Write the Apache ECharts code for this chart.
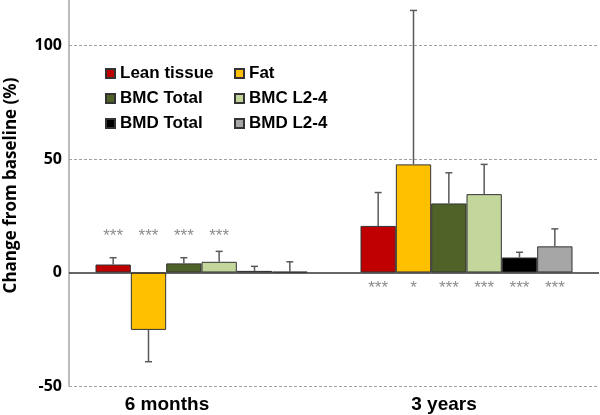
<!DOCTYPE html>
<html>
<head>
<meta charset="utf-8">
<script src="https://cdn.jsdelivr.net/npm/echarts@6/dist/echarts.min.js"></script>
<style>html,body{margin:0;padding:0;background:#fff}#c{width:600px;height:415px}</style>
</head>
<body>
<div id="c"></div>
<script>
var categories = ['6 months', '3 years'];
var seriesNames = ['Lean tissue', 'Fat', 'BMC Total', 'BMC L2-4', 'BMD Total', 'BMD L2-4'];
var leanTissue = [3.5, 20.5];
var fat = [-25.3, 47.6];
var bmcTotal = [4.0, 30.4];
var bmcL24 = [4.7, 34.5];
var bmdTotal = [0.7, 6.6];
var bmdL24 = [0.3, 11.5];
var leanTissueErr = [3.0, 14.7];
var fatErr = [14.0, 67.8];
var bmcTotalErr = [2.5, 13.5];
var bmcL24Err = [4.6, 13.1];
var bmdTotalErr = [2.0, 2.3];
var bmdL24Err = [4.4, 7.7];
var sig6months = ['***', '***', '***', '***', '', ''];
var sig3years = ['***', '*', '***', '***', '***', '***'];
var yTicks = [-50, 0, 50, 100];

var colors = ['#c00000', '#ffc000', '#4f6228', '#c3d69b', '#000000', '#a6a6a6'];
var allVals = [leanTissue, fat, bmcTotal, bmcL24, bmdTotal, bmdL24];
var allErrs = [leanTissueErr, fatErr, bmcTotalErr, bmcL24Err, bmdTotalErr, bmdL24Err];
var sigs = [sig6months, sig3years];
var sigLevel = [17, -6.3];
var labelShift = [69, 45];

var series = seriesNames.map(function (n, i) {
  var s = {
    name: n, type: 'bar', data: allVals[i],
    barGap: '0%', barCategoryGap: '20%',
    itemStyle: { color: colors[i], borderColor: '#333333', borderWidth: 1 },
    z: 2
  };
  if (i === 0) {
    s.markLine = {
      silent: true, symbol: 'none', label: { show: false },
      data: [
        { yAxis: -50, lineStyle: { color: '#a0a0a0', type: [3, 2], width: 1 } },
        { yAxis: 50, lineStyle: { color: '#a0a0a0', type: [3, 2], width: 1 } },
        { yAxis: 100, lineStyle: { color: '#a0a0a0', type: [3, 2], width: 1 } },
        { yAxis: 0, lineStyle: { color: '#333333', type: 'solid', width: 1.5 } }
      ],
      z: 5
    };
  }
  return s;
});

var errData = [];
for (var c = 0; c < categories.length; c++) {
  for (var s = 0; s < seriesNames.length; s++) {
    errData.push([c, s, allVals[s][c], allErrs[s][c], sigs[c][s]]);
  }
}

series.push({
  type: 'custom', z: 10, silent: true,
  data: errData,
  encode: { x: 0, y: 2 },
  renderItem: function (params, api) {
    var cat = api.value(0), si = api.value(1), v = api.value(2), e = api.value(3);
    var sig = errData[params.dataIndex][4];
    var band = api.size([1, 0])[0];
    var bw = band * 0.8 / 6;
    var cx = api.coord([cat, 0])[0] + (si - 2.5) * bw;
    var y0 = api.coord([cat, v])[1];
    var end = v >= 0 ? v + e : v - e;
    var y1 = api.coord([cat, end])[1];
    var ys = api.coord([cat, sigLevel[cat]])[1];
    var ls = { stroke: '#595959', lineWidth: 1.5 };
    var children = [
      { type: 'line', shape: { x1: cx, y1: y0, x2: cx, y2: y1 }, style: ls },
      { type: 'line', shape: { x1: cx - 3.5, y1: y1, x2: cx + 3.5, y2: y1 }, style: ls }
    ];
    if (sig) {
      children.push({ type: 'text', x: cx, y: ys + 2, style: { text: sig, fill: '#8c8c8c', font: '17px "Liberation Sans", Arial', align: 'center', verticalAlign: 'middle' } });
    }
    return { type: 'group', children: children };
  }
});

var legendText = { fontFamily: '"Liberation Sans", Arial', fontWeight: 'bold', fontSize: 17, color: '#000', lineHeight: 17 };
var chart = echarts.init(document.getElementById('c'));
chart.setOption({
  animation: false,
  backgroundColor: '#fff',
  grid: { left: 69, right: 1, top: 0, bottom: 29, containLabel: false, outerBoundsMode: 'none' },
  legend: [
    { data: ['Lean tissue', 'BMC Total', 'BMD Total'], orient: 'vertical', left: 105, top: 65, padding: 0, itemWidth: 9, itemHeight: 9, itemGap: 8, icon: 'rect', textStyle: legendText },
    { data: ['Fat', 'BMC L2-4', 'BMD L2-4'], orient: 'vertical', left: 234, top: 65, padding: 0, itemWidth: 9, itemHeight: 9, itemGap: 8, icon: 'rect', textStyle: legendText }
  ],
  xAxis: {
    type: 'category', data: categories,
    axisLine: { show: false }, axisTick: { show: false },
    axisLabel: {
      margin: 9, fontFamily: '"Liberation Sans", Arial', fontWeight: 'bold', fontSize: 19, color: '#000',
      formatter: function (v, idx) { return '{l' + idx + '|' + v + '}'; },
      rich: {
        l0: { fontFamily: '"Liberation Sans", Arial', fontWeight: 'bold', fontSize: 19, color: '#000', padding: [0, labelShift[0], 0, 0] },
        l1: { fontFamily: '"Liberation Sans", Arial', fontWeight: 'bold', fontSize: 19, color: '#000', padding: [0, labelShift[1], 0, 0] }
      }
    }
  },
  yAxis: {
    type: 'value', min: -50, max: 120, interval: 50,
    name: 'Change from baseline (%)', nameLocation: 'middle', nameGap: 49,
    nameTextStyle: { fontFamily: '"Open Sans"', fontWeight: 'bold', fontSize: 17, color: '#000', padding: [0, 0, 0, 15] },
    axisLine: { show: true, lineStyle: { color: '#a6a6a6', width: 1.5 } },
    axisTick: { show: false },
    splitLine: { show: false },
    axisLabel: {
      margin: 7, fontFamily: '"Open Sans"', fontWeight: 'bold', fontSize: 16, color: '#000',
      formatter: function (v) { return yTicks.indexOf(v) >= 0 ? String(v) : ''; }
    }
  },
  series: series
});
</script>
</body>
</html>
